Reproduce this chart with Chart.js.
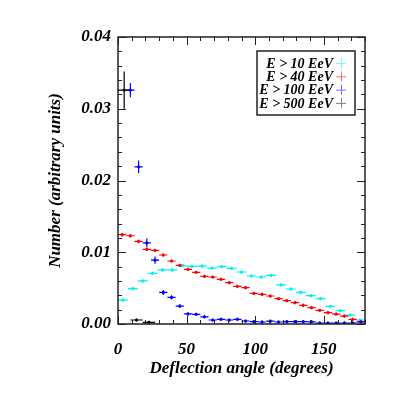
<!DOCTYPE html>
<html>
<head>
<meta charset="utf-8">
<script src="https://cdn.jsdelivr.net/npm/chart.js@4"></script>
<style>
html,body{margin:0;padding:0;background:#fff;}
#wrap{width:399px;height:399px;}
</style>
</head>
<body>
<div id="wrap"><canvas id="c" width="399" height="399"></canvas></div>
<script>
// ---- data ----
const xTickLabels = [0, 50, 100, 150];
const yTickLabels = [0.00, 0.01, 0.02, 0.03, 0.04];

const seriesNames = ['E > 10 EeV', 'E > 40 EeV', 'E > 100 EeV', 'E > 500 EeV'];

const cyanX = [3.6,10.8,18,25.2,32.4,39.6,46.8,54,61.2,68.4,75.6,82.8,90,97.2,104.4,111.6,118.8,126,133.2,140.4,147.6,154.8,162,169.2,176.4];
const cyanY = [0.00334,0.00492,0.0060,0.00706,0.00753,0.00753,0.00813,0.00804,0.00808,0.0078,0.00799,0.00776,0.00725,0.00669,0.00655,0.00678,0.00544,0.00488,0.0044,0.00395,0.00353,0.00246,0.00186,0.00125,0.00056];
const cyanXErr = [3.6,3.6,3.6,3.6,3.6,3.6,3.6,3.6,3.6,3.6,3.6,3.6,3.6,3.6,3.6,3.6,3.6,3.6,3.6,3.6,3.6,3.6,3.6,3.6,3.6];
const cyanYErr = [0.0002,0.0002,0.0002,0.0002,0.0002,0.0002,0.0002,0.0002,0.0002,0.0002,0.0002,0.0002,0.0002,0.0002,0.0002,0.0002,0.0002,0.0002,0.0002,0.00018,0.00018,0.00015,0.00013,0.00012,0.0001];

const redX = [3,9,15,21,27,33,39,45,51,57,63,69,75,81,87,93,99,105,111,117,123,129,135,141,147,153,159,165,171,177];
const redY = [0.01245,0.0123,0.01152,0.0104,0.01027,0.00962,0.00878,0.00818,0.00762,0.0072,0.00664,0.00655,0.00622,0.00576,0.00525,0.00506,0.00428,0.00414,0.0039,0.00353,0.00325,0.00297,0.0026,0.00227,0.0019,0.00158,0.00139,0.00111,0.00065,0.00032];
const redXErr = [3,3,3,3,3,3,3,3,3,3,3,3,3,3,3,3,3,3,3,3,3,3,3,3,3,3,3,3,3,3];
const redYErr = [0.00025,0.00025,0.00025,0.00022,0.00022,0.0002,0.0002,0.0002,0.0002,0.0002,0.00018,0.00018,0.00018,0.00018,0.00016,0.00016,0.00015,0.00015,0.00015,0.00014,0.00014,0.00013,0.00013,0.00012,0.00012,0.00011,0.0001,0.0001,0.00008,0.00006];

const blueX = [9,15,21,27,33,39,45,51,57,63,69,75,81,87,93,99,105,111,117,123,129,135,141,147,153,159,165,171,177];
const blueY = [0.0326,0.0219,0.0113,0.0089,0.0044,0.0037,0.0025,0.0014,0.00135,0.0010,0.00056,0.00065,0.00056,0.00065,0.00042,0.00032,0.00028,0.0004,0.00028,0.00032,0.00032,0.00032,0.0003,0.00014,0.00014,0.00014,0.00014,0.00014,0.00028];
const blueXErr = [3,3,3,3,3,3,3,3,3,3,3,3,3,3,3,3,3,3,3,3,3,3,3,3,3,3,3,3,3];
const blueYErr = [0.0010,0.0009,0.0006,0.0005,0.00035,0.0003,0.00025,0.0002,0.0002,0.00018,0.00014,0.00014,0.00014,0.00014,0.00012,0.0001,0.0001,0.0001,0.0001,0.0001,0.0001,0.0001,0.0001,0.00008,0.00008,0.00008,0.00008,0.00008,0.0001];

const blackX = [4.5,13.5,22.5];
const blackY = [0.0326,0.00056,0.00023];
const blackXErr = [4.5,4.5,4.5];
const blackYErr = [0.0026,0.0002,0.0001];

// ---- styles ----
const FONT = '"Liberation Serif", "DejaVu Serif", serif';
const colors = ['#00f0f0', '#ff0000', '#0000ff', '#000000'];
const legendColors = ['#70ffff', '#ff7070', '#7070ff', '#808080'];

function mk(xs, ys, xe, ye, label, color, order) {
  return {
    label: label,
    data: xs.map((v, i) => ({x: v, y: ys[i]})),
    xerr: xe, yerr: ye,
    backgroundColor: color, borderColor: color,
    pointRadius: 1.6, pointHoverRadius: 1.6, pointBorderWidth: 0,
    showLine: false, order: order
  };
}

const datasets = [
  mk(cyanX, cyanY, cyanXErr, cyanYErr, seriesNames[0], colors[0], 4),
  mk(redX, redY, redXErr, redYErr, seriesNames[1], colors[1], 3),
  mk(blueX, blueY, blueXErr, blueYErr, seriesNames[2], colors[2], 2),
  mk(blackX, blackY, blackXErr, blackYErr, seriesNames[3], colors[3], 1)
];

const errorBars = {
  id: 'errorBars',
  beforeDatasetsDraw(chart) {
    const ctx = chart.ctx, xs = chart.scales.x, ys = chart.scales.y;
    const area = chart.chartArea;
    ctx.save();
    ctx.beginPath();
    ctx.rect(area.left, area.top, area.right - area.left, area.bottom - area.top);
    ctx.clip();
    for (let d = 0; d < chart.data.datasets.length; d++) {
      const ds = chart.data.datasets[d];
      ctx.strokeStyle = ds.borderColor;
      ctx.lineWidth = 1.2;
      ds.data.forEach((p, i) => {
        const px = xs.getPixelForValue(p.x), py = ys.getPixelForValue(p.y);
        const x0 = xs.getPixelForValue(p.x - ds.xerr[i]), x1 = xs.getPixelForValue(p.x + ds.xerr[i]);
        const y0 = ys.getPixelForValue(p.y - ds.yerr[i]), y1 = ys.getPixelForValue(p.y + ds.yerr[i]);
        ctx.beginPath();
        ctx.moveTo(x0, py); ctx.lineTo(x1, py);
        ctx.moveTo(px, Math.max(y0, py + 1.5)); ctx.lineTo(px, Math.min(y1, py - 1.5));
        ctx.stroke();
      });
    }
    ctx.restore();
  }
};

const frameAndTicks = {
  id: 'frameAndTicks',
  afterDraw(chart) {
    const ctx = chart.ctx, xs = chart.scales.x, ys = chart.scales.y;
    const a = chart.chartArea;
    ctx.save();
    ctx.strokeStyle = '#222';
    ctx.lineWidth = 1;
    ctx.beginPath();
    for (let v = 0; v <= 180; v += 10) {
      const px = Math.round(xs.getPixelForValue(v)) + 0.5;
      const len = (v % 50 === 0) ? 8 : 4;
      ctx.moveTo(px, a.bottom); ctx.lineTo(px, a.bottom - len);
      ctx.moveTo(px, a.top); ctx.lineTo(px, a.top + len);
    }
    for (let k = 0; k <= 20; k++) {
      const v = k * 0.002;
      const py = Math.round(ys.getPixelForValue(v)) + 0.5;
      const len = (k % 5 === 0) ? 8 : 4;
      ctx.moveTo(a.left, py); ctx.lineTo(a.left + len, py);
      ctx.moveTo(a.right, py); ctx.lineTo(a.right - len, py);
    }
    ctx.stroke();
    ctx.lineWidth = 1.5;
    ctx.strokeRect(a.left, a.top, a.right - a.left, a.bottom - a.top);

    // legend box
    const bx = 257, by = 51, bw = 98, bh = 64;
    ctx.lineWidth = 1.5;
    ctx.strokeStyle = '#222';
    ctx.fillStyle = '#fff';
    ctx.fillRect(bx, by, bw, bh);
    ctx.strokeRect(bx, by, bw, bh);
    ctx.font = 'italic bold 14px ' + FONT;
    ctx.textAlign = 'right';
    ctx.textBaseline = 'middle';
    chart.data.datasets.forEach((ds, i) => {
      const yy = by + 12 + i * 13.3;
      ctx.fillStyle = '#000';
      ctx.fillText(ds.label, 333, yy + 1);
      ctx.strokeStyle = legendColors[i];
      ctx.lineWidth = 1;
      ctx.beginPath();
      ctx.moveTo(336, yy + 0.5); ctx.lineTo(346, yy + 0.5);
      ctx.moveTo(341.5, yy - 5); ctx.lineTo(341.5, yy + 5);
      ctx.stroke();
    });
    ctx.restore();
  }
};

new Chart(document.getElementById('c'), {
  type: 'scatter',
  data: { datasets: datasets },
  options: {
    responsive: false,
    animation: false,
    devicePixelRatio: 1,
    layout: { padding: { left: 0, right: 34, top: 37, bottom: 0 } },
    plugins: { legend: { display: false }, tooltip: { enabled: false } },
    scales: {
      x: {
        type: 'linear', min: 0, max: 180,
        afterBuildTicks: s => { s.ticks = xTickLabels.map(v => ({value: v})); },
        afterFit: s => { s.height = 75; },
        grid: { display: false, drawTicks: false },
        border: { display: false },
        ticks: {
          color: '#000', padding: 15, maxRotation: 0,
          font: { family: FONT, size: 17, style: 'italic', weight: 'bold' },
          callback: v => String(v)
        },
        title: {
          display: true, text: 'Deflection angle (degrees)', color: '#000',
          font: { family: FONT, size: 17, style: 'italic', weight: 'bold' },
          padding: { top: 0, bottom: 20 }
        }
      },
      y: {
        type: 'linear', min: 0, max: 0.04,
        afterBuildTicks: s => { s.ticks = yTickLabels.map(v => ({value: v})); },
        afterFit: s => { s.width = 118; },
        grid: { display: false, drawTicks: false },
        border: { display: false },
        ticks: {
          color: '#000', padding: 7,
          font: { family: FONT, size: 17, style: 'italic', weight: 'bold' },
          callback: v => Number(v).toFixed(2)
        },
        title: {
          display: true, text: 'Number (arbitrary units)', color: '#000',
          font: { family: FONT, size: 17, style: 'italic', weight: 'bold' },
          padding: { top: 45, bottom: 0 }
        }
      }
    }
  },
  plugins: [errorBars, frameAndTicks]
});
</script>
</body>
</html>
